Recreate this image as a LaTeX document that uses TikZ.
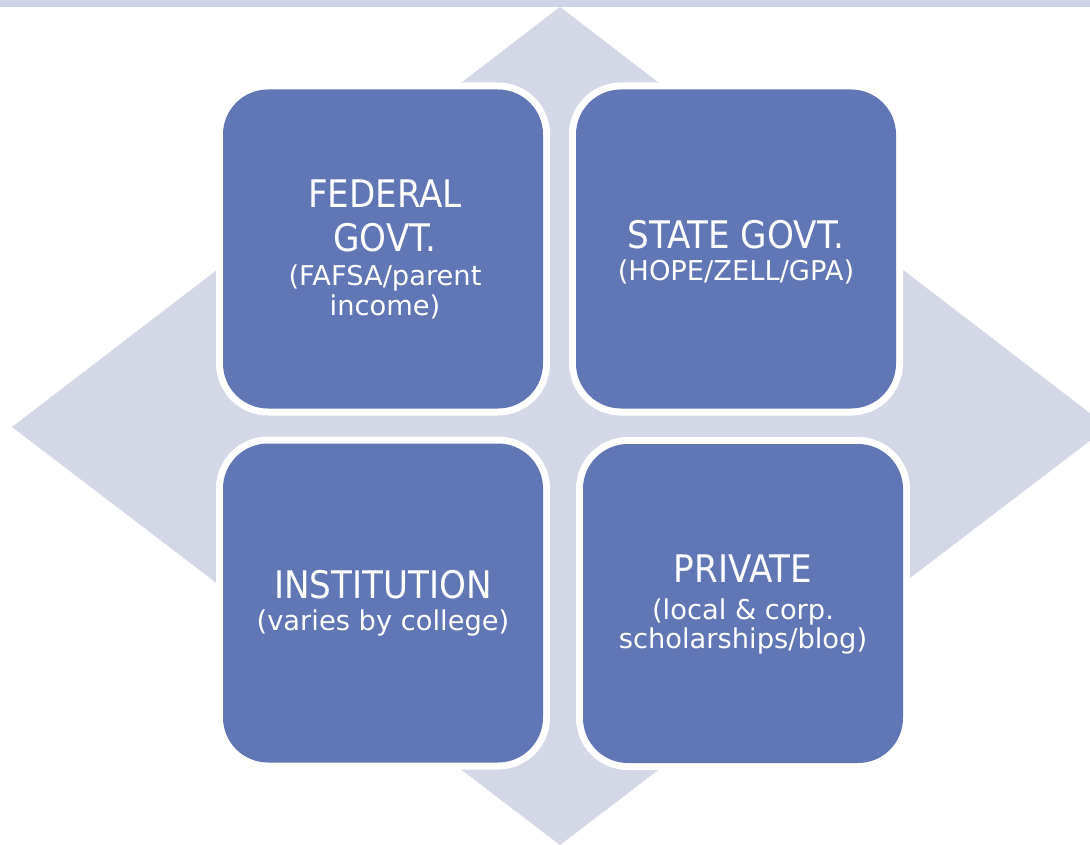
\documentclass[tikz,border=0pt]{standalone}
\usepackage{fontspec}
\setmainfont{DejaVu Sans}
\newfontfamily\ttlfont{DejaVu Sans Condensed}
\definecolor{boxblue}{RGB}{97,118,180}
\definecolor{diam}{RGB}{211,215,230}
\definecolor{stripc}{RGB}{205,212,232}
\begin{document}
\begin{tikzpicture}[x=1pt,y=-1pt,
  quad/.style={rectangle, rounded corners=45pt, fill=boxblue, minimum width=320pt,
    minimum height=319pt, inner sep=0pt, outer sep=0pt,
    preaction={draw=white, line width=14pt}},
  ttl/.style={anchor=base, text=white, font=\ttlfont\fontsize{38}{42}\selectfont, inner sep=0pt},
  subline/.style={anchor=base, text=white, font=\fontsize{27.3}{30}\selectfont, inner sep=0pt}]
\useasboundingbox (0,0) rectangle (1090,845);
\fill[white] (0,0) rectangle (1090,845);
\begin{scope}
\clip (0,0) rectangle (1090,845);
\fill[diam] (12,427) -- (560,7) -- (1108,427) -- (560,845) -- cycle;
\fill[stripc] (0,0) rectangle (1090,7);
\end{scope}
\node[quad] (fed) at (383,249) {};
\node[quad] (state) at (736,249) {};
\node[quad] (inst) at (383,603) {};
\node[quad] (priv) at (743,603.5) {};
% texts
\node[ttl] (fedA) at (385,208) {FEDERAL};
\node[ttl] (fedB) at (385,252) {GOVT.};
\node[subline] (fedC) at (385,285) {(FAFSA/parent};
\node[subline] (fedD) at (385,315) {income)};
\node[ttl] (stateA) at (736,248) {STATE GOVT.};
\node[subline] (stateB) at (736,280) {(HOPE/ZELL/GPA)};
\node[ttl] (instA) at (383,598) {INSTITUTION};
\node[subline] (instB) at (383,630) {(varies by college)};
\node[ttl] (privA) at (743,582) {PRIVATE};
\node[subline] (privB) at (743,619) {(local \& corp.};
\node[subline] (privC) at (743,648) {scholarships/blog)};
\end{tikzpicture}
\end{document}
